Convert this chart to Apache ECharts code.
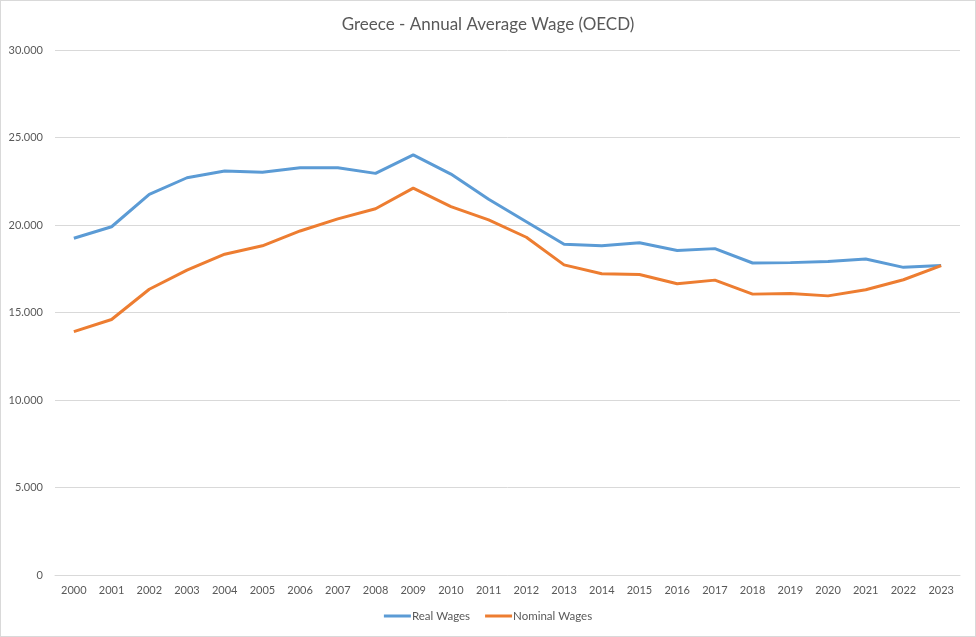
<!DOCTYPE html>
<html>
<head>
<meta charset="utf-8">
<script src="https://cdn.jsdelivr.net/npm/echarts@6/dist/echarts.min.js"></script>
<style>
html,body{margin:0;padding:0;background:#fff;}
#c{width:976px;height:637px;box-sizing:border-box;border:1px solid #d9d9d9;}
</style>
</head>
<body>
<div id="c"></div>
<script>
const years = ['2000','2001','2002','2003','2004','2005','2006','2007','2008','2009','2010','2011','2012','2013','2014','2015','2016','2017','2018','2019','2020','2021','2022','2023'];
const realWages = [19240,19900,21750,22700,23090,23010,23270,23270,22950,24010,22910,21470,20190,18900,18820,18990,18540,18650,17830,17850,17910,18060,17580,17680];
const nominalWages = [13910,14600,16330,17420,18330,18810,19660,20350,20930,22110,21050,20290,19300,17720,17210,17170,16640,16850,16050,16090,15950,16300,16870,17680];
const realName = 'Real Wages';
const nominalName = 'Nominal Wages';
const titleText = 'Greece - Annual Average Wage (OECD)';

const font = 'Lato, "Open Sans", sans-serif';
const chart = echarts.init(document.getElementById('c'), null, {renderer:'canvas'});
chart.setOption({
  animation:false,
  title:{text:titleText,left:'center',top:10,textStyle:{fontFamily:font,fontSize:17,fontWeight:'normal',color:'#595959'}},
  grid:{left:54,right:15,top:49,bottom:61,containLabel:false},
  legend:{bottom:9,left:'center',itemWidth:27,itemHeight:3,itemGap:15,icon:'rect',
    textStyle:{fontFamily:font,fontSize:11.5,color:'#595959',padding:[0,0,0,-4]},
    data:[realName,nominalName]},
  xAxis:{type:'category',data:years,boundaryGap:true,
    axisLine:{show:true,lineStyle:{color:'#d9d9d9'}},axisTick:{show:false},
    axisLabel:{fontFamily:font,fontSize:11,color:'#595959',margin:10}},
  yAxis:{type:'value',min:0,max:30000,interval:5000,
    axisLine:{show:false},axisTick:{show:false},
    splitLine:{lineStyle:{color:'#d9d9d9',width:1}},
    axisLabel:{fontFamily:font,fontSize:11,color:'#595959',margin:12,
      formatter:v=>v===0?'0':String(v).replace(/\B(?=(\d{3})+(?!\d))/g,'.')}},
  series:[
    {name:realName,type:'line',data:realWages,symbol:'none',lineStyle:{width:3,color:'#5B9BD5'},itemStyle:{color:'#5B9BD5'}},
    {name:nominalName,type:'line',data:nominalWages,symbol:'none',lineStyle:{width:3,color:'#ED7D31'},itemStyle:{color:'#ED7D31'}}
  ]
});
</script>
</body>
</html>
